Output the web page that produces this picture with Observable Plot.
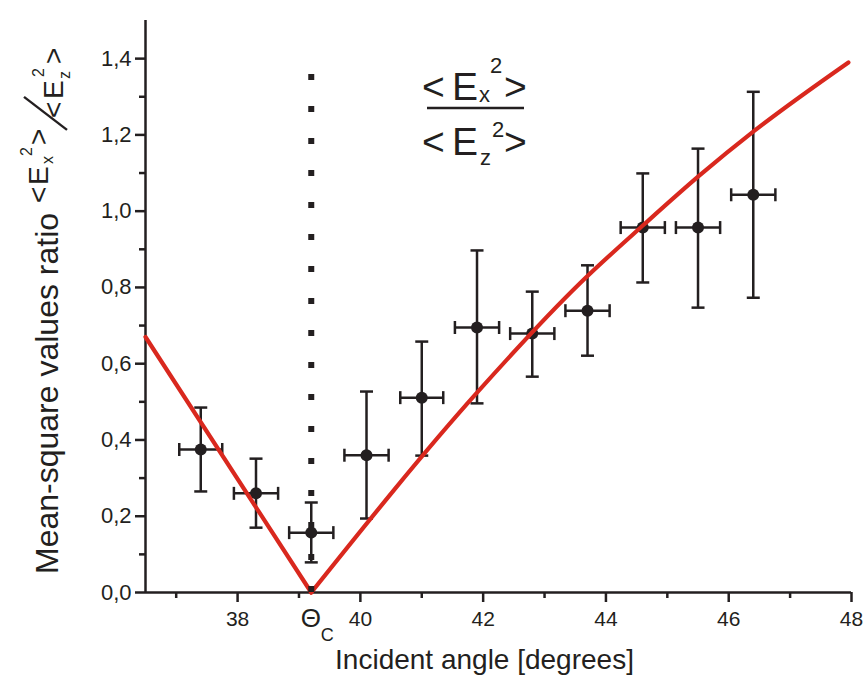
<!DOCTYPE html>
<html><head><meta charset="utf-8">
<script src="https://cdn.jsdelivr.net/npm/d3@7"></script>
<script src="https://cdn.jsdelivr.net/npm/@observablehq/plot@0.6"></script>
<style>body{margin:0;background:#fff} svg{display:block}</style>
</head><body><div id="chart"></div>
<script>
// ---- data ----
const angle     = [37.4, 38.3, 39.2, 40.1, 41.0, 41.9, 42.8, 43.7, 44.6, 45.5, 46.4];
const ratio     = [0.375, 0.26, 0.157, 0.36, 0.511, 0.695, 0.679, 0.739, 0.957, 0.957, 1.043];
const ratioLow  = [0.265, 0.17, 0.079, 0.194, 0.359, 0.496, 0.566, 0.621, 0.813, 0.747, 0.773];
const ratioHigh = [0.485, 0.351, 0.236, 0.527, 0.658, 0.897, 0.789, 0.858, 1.099, 1.164, 1.313];
const angleErr  = [0.35, 0.36, 0.36, 0.36, 0.35, 0.36, 0.36, 0.36, 0.36, 0.36, 0.36];

const fitAngle  = [36.5, 39.2, 39.2, 41.9, 43.59, 44.62, 45.52, 46.42, 47.95];
const fitRatio  = [0.67, 0.0, 0.0, 0.524, 0.813, 0.965, 1.093, 1.211, 1.39];
const fitBranch = ["L", "L", "R", "R", "R", "R", "R", "R", "R"];

const criticalAngle = [39.2];
const criticalTop = [1.36];

const xTicks = [38, 40, 42, 44, 46, 48];
const xMinor = [37, 39, 41, 43, 45, 47];
const yTicks = [0, 0.2, 0.4, 0.6, 0.8, 1.0, 1.2, 1.4];
const yMinor = [0.1, 0.3, 0.5, 0.7, 0.9, 1.1, 1.3];
const xDomain = [36.5, 48];
const yDomain = [0, 1.5];

// ---- tables ----
const points = angle.map((a, i) => ({a, r: ratio[i], lo: ratioLow[i], hi: ratioHigh[i],
  a1: a - angleErr[i], a2: a + angleErr[i]}));
const fit = fitAngle.map((a, i) => ({a, r: fitRatio[i], b: fitBranch[i]}));
const crit = criticalAngle.map((a, i) => ({a, top: criticalTop[i]}));

const INK = "#231f20", RED = "#d9281e";
const FONT = "'Liberation Sans', Arial, Helvetica, sans-serif";

const hCap = {draw(ctx, size) { const r = Math.sqrt(size / Math.PI); ctx.moveTo(-r, 0); ctx.lineTo(r, 0); }};
const vCap = {draw(ctx, size) { const r = Math.sqrt(size / Math.PI); ctx.moveTo(0, -r); ctx.lineTo(0, r); }};

const plot = Plot.plot({
  width: 864, height: 686,
  marginLeft: 145, marginRight: 13, marginTop: 20, marginBottom: 94,
  style: {fontFamily: FONT, color: INK, background: "#fff", overflow: "visible"},
  x: {domain: xDomain},
  y: {domain: yDomain},
  marks: [
    Plot.axisX(xMinor, {tickSize: 6, strokeWidth: 2.5, tickFormat: () => "", label: null}),
    Plot.axisX(xTicks, {tickSize: 10, tickPadding: 9, strokeWidth: 2.5, fontSize: 21, tickFormat: d => String(d), label: null}),
    Plot.axisY(yMinor, {tickSize: 6, strokeWidth: 2.5, tickFormat: () => "", label: null}),
    Plot.axisY(yTicks, {tickSize: 10, tickPadding: 4, strokeWidth: 2.5, fontSize: 22,
      tickFormat: d => d.toFixed(1).replace(".", ","), label: null}),
    Plot.ruleX([xDomain[0]], {stroke: INK, strokeWidth: 2.5}),
    Plot.ruleY([0], {stroke: INK, strokeWidth: 2.5}),
    // error bars
    Plot.ruleX(points, {x: "a", y1: "lo", y2: "hi", stroke: INK, strokeWidth: 2.5}),
    Plot.ruleY(points, {y: "r", x1: "a1", x2: "a2", stroke: INK, strokeWidth: 2.5}),
    Plot.dot(points, {x: "a", y: "lo", symbol: hCap, r: 6.5, stroke: INK, strokeWidth: 2.5}),
    Plot.dot(points, {x: "a", y: "hi", symbol: hCap, r: 6.5, stroke: INK, strokeWidth: 2.5}),
    Plot.dot(points, {x: "a1", y: "r", symbol: vCap, r: 6.5, stroke: INK, strokeWidth: 2.5}),
    Plot.dot(points, {x: "a2", y: "r", symbol: vCap, r: 6.5, stroke: INK, strokeWidth: 2.5}),
    Plot.dot(points, {x: "a", y: "r", r: 6, fill: INK, stroke: "none"}),
    // fit curve
    Plot.line(fit, {x: "a", y: "r", z: "b", stroke: RED, strokeWidth: 4.2, curve: "monotone-x"}),
    // critical angle dotted line
    Plot.ruleX(crit, {x: "a", y1: 0, y2: "top", stroke: INK, strokeWidth: 6, strokeDasharray: "6,26"}),
    // x title
    Plot.text(["Incident angle [degrees]"], {frameAnchor: "bottom", dx: -14, dy: 76, fontSize: 28, fill: INK})
  ]
});

document.getElementById("chart").appendChild(plot);

const svg = d3.select(plot);
const sx = plot.scale("x");

// Θ_C tick label
const xc = sx.apply(criticalAngle[0]);
const tc = svg.append("text").attr("font-family", FONT).attr("fill", INK).attr("text-anchor", "start");
tc.append("tspan").attr("x", xc - 10).attr("y", 627).attr("font-size", 26).text("Θ");
tc.append("tspan").attr("x", xc + 10).attr("y", 641).attr("font-size", 18).text("C");

// in-plot fraction annotation
const ann = svg.append("g").attr("font-family", FONT).attr("fill", INK).attr("text-anchor", "start");
function piece(x, y, fs, t) { ann.append("text").attr("x", x).attr("y", y).attr("font-size", fs).text(t); }
piece(422, 100, 39, "<"); piece(452, 100, 39, "E"); piece(479, 102, 22, "x"); piece(490, 73, 22, "2"); piece(504, 100, 39, ">");
ann.append("line").attr("x1", 427).attr("x2", 524).attr("y1", 108).attr("y2", 108).attr("stroke", INK).attr("stroke-width", 2.6);
piece(422, 155, 39, "<"); piece(452, 155, 39, "E"); piece(480, 165, 22, "z"); piece(492, 137, 22, "2"); piece(504, 155, 39, ">");

// y-axis title (rotated)
const yl = svg.append("g").attr("transform", "translate(58,574) rotate(-90)")
  .attr("font-family", FONT).attr("fill", INK).attr("text-anchor", "start");
const main = yl.append("text").attr("x", 0).attr("y", 0).attr("font-size", 32).text("Mean-square values ratio");
const L = main.node().getComputedTextLength() + 10;
function yp(x, y, fs, t) { yl.append("text").attr("x", L + x).attr("y", y).attr("font-size", fs).text(t); }
yp(0, -10, 28, "<"); yp(18, -10, 28, "E"); yp(39, -5, 16, "x"); yp(47, -26, 16, "2"); yp(58, -10, 28, ">");
yl.append("line").attr("x1", L + 73).attr("y1", 9).attr("x2", L + 106).attr("y2", -34).attr("stroke", INK).attr("stroke-width", 2.4);
yp(85, 5, 28, "<"); yp(104, 5, 28, "E"); yp(124, 12, 16, "z"); yp(126, -14, 16, "2"); yp(139, 5, 28, ">");
</script>
</body></html>
